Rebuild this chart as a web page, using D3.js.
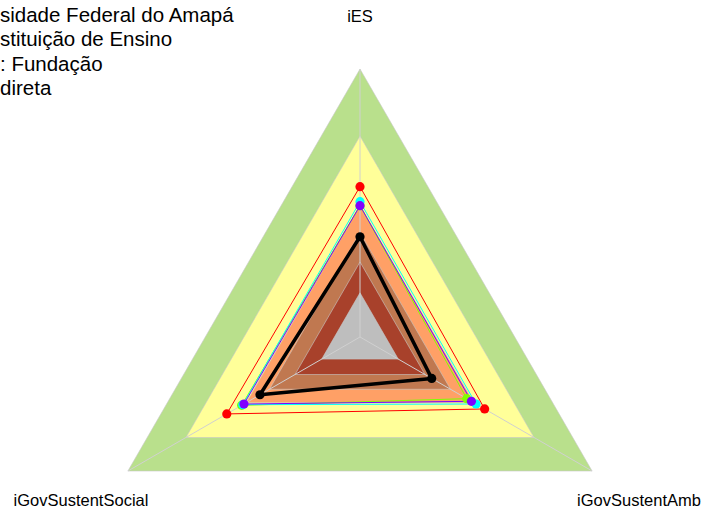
<!DOCTYPE html>
<html>
<head>
<meta charset="utf-8">
<script src="https://cdn.jsdelivr.net/npm/d3@7"></script>
<style>
  body { margin: 0; background: #fff; }
  text { font-family: "Liberation Sans", Arial, sans-serif; }
</style>
</head>
<body>
<div id="chart"></div>
<script>
// Axes of the radar (top, bottom-left, bottom-right)
var categories = ["iES", "iGovSustentSocial", "iGovSustentAmb"];

// Background bands (share of full scale), outer to inner
var bandLevels = [1.0, 0.75, 0.49, 0.39, 0.28, 0.165];
var bandColors = ["#b9e08c", "#ffff99", "#ffa066", "#c07850", "#a8412b", "#bebebe"];

// Comparison series (rainbow(4)) and the institution itself
var seriesNames = ["Geral", "Tipo", "Natureza", "Administração"];
var seriesColors = ["#ff0000", "#80ff00", "#00ffff", "#8000ff"];
var seriesValues = [
  [0.561, 0.574, 0.537],
  [0.49, 0.51, 0.46],
  [0.505, 0.505, 0.50],
  [0.49, 0.50, 0.48]
];
var institution = [0.374, 0.431, 0.309];

var titleLines = ["sidade Federal do Amapá", "stituição de Ensino", ": Fundação", "direta"];

var width = 702, height = 511;
var cx = 360, cy = 337, R = 268;

var svg = d3.select("#chart")
  .append("svg")
  .attr("width", width)
  .attr("height", height);

var r = d3.scaleLinear().domain([0, 1]).range([0, R]);
var angle = function(i) { return -i * 2 * Math.PI / categories.length; };

var g = svg.append("g")
  .attr("transform", "translate(" + cx + "," + cy + ")");

var radial = d3.lineRadial()
  .angle(function(d, i) { return angle(i); })
  .radius(function(d) { return r(d); })
  .curve(d3.curveLinearClosed);

// Bands
g.selectAll("path.band")
  .data(bandLevels)
  .enter()
  .append("path")
  .attr("class", "band")
  .attr("d", function(lv) { return radial(categories.map(function() { return lv; })); })
  .attr("fill", function(d, i) { return bandColors[i]; })
  .attr("stroke", "#c8c8c8")
  .attr("stroke-width", 0.6);

// Axis lines
g.selectAll("line.axis")
  .data(categories)
  .enter()
  .append("line")
  .attr("class", "axis")
  .attr("x1", 0).attr("y1", 0)
  .attr("x2", function(d, i) { return r(1) * Math.sin(angle(i)); })
  .attr("y2", function(d, i) { return -r(1) * Math.cos(angle(i)); })
  .attr("stroke", "#d0d0d0")
  .attr("stroke-width", 1);

// Comparison series
seriesValues.forEach(function(vals, s) {
  g.append("path")
    .attr("d", radial(vals))
    .attr("fill", "none")
    .attr("stroke", seriesColors[s])
    .attr("stroke-width", 1);
});
seriesValues.forEach(function(vals, s) {
  g.selectAll(null)
    .data(vals)
    .enter()
    .append("circle")
    .attr("cx", function(d, i) { return r(d) * Math.sin(angle(i)); })
    .attr("cy", function(d, i) { return -r(d) * Math.cos(angle(i)); })
    .attr("r", 4.6)
    .attr("fill", seriesColors[s]);
});

// Institution
g.append("path")
  .attr("d", radial(institution))
  .attr("fill", "none")
  .attr("stroke", "#000")
  .attr("stroke-width", 3.5)
  .attr("stroke-linejoin", "round");
g.selectAll(null)
  .data(institution)
  .enter()
  .append("circle")
  .attr("cx", function(d, i) { return r(d) * Math.sin(angle(i)); })
  .attr("cy", function(d, i) { return -r(d) * Math.cos(angle(i)); })
  .attr("r", 4.6)
  .attr("fill", "#000");

// Axis labels
var labelPos = [[360, 22], [81, 506], [639, 506]];
svg.selectAll("text.lab")
  .data(categories)
  .enter()
  .append("text")
  .attr("class", "lab")
  .attr("x", function(d, i) { return labelPos[i][0]; })
  .attr("y", function(d, i) { return labelPos[i][1]; })
  .attr("text-anchor", "middle")
  .style("font-size", "16.5px")
  .text(function(d) { return d; });

// Title (cut at the left edge)
svg.selectAll("text.title")
  .data(titleLines)
  .enter()
  .append("text")
  .attr("class", "title")
  .attr("x", 0)
  .attr("y", function(d, i) { return 21.5 + i * 24.5; })
  .style("font-size", "20.5px")
  .text(function(d) { return d; });
</script>
</body>
</html>
